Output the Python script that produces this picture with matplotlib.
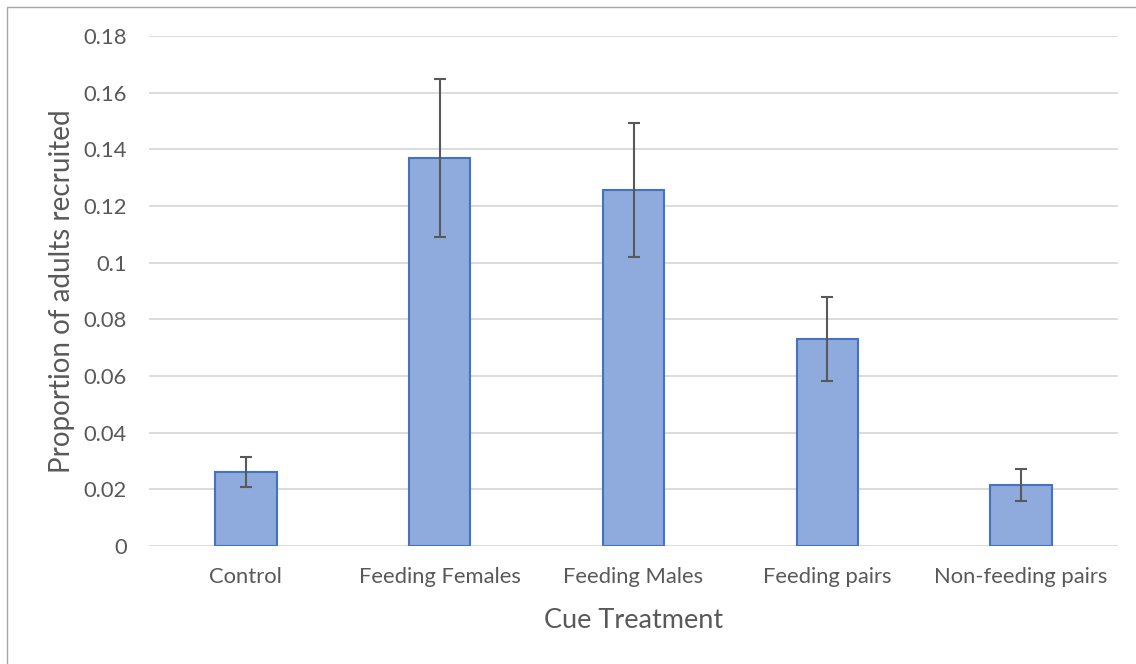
import matplotlib
matplotlib.use("Agg")
import matplotlib.pyplot as plt
from matplotlib.patches import Rectangle

categories = ["Control", "Feeding Females", "Feeding Males", "Feeding pairs", "Non-feeding pairs"]
values = [0.0262, 0.137, 0.1256, 0.0731, 0.0215]
errors = [0.0053, 0.0278, 0.0237, 0.0148, 0.0056]
yticks = [0, 0.02, 0.04, 0.06, 0.08, 0.1, 0.12, 0.14, 0.16, 0.18]
ytick_labels = ["0", "0.02", "0.04", "0.06", "0.08", "0.1", "0.12", "0.14", "0.16", "0.18"]

plt.rcParams['font.family'] = ['Lato', 'DejaVu Sans']
text_color = "#595959"

fig = plt.figure(figsize=(11.36, 6.64), dpi=100)
ax = fig.add_axes([149/1136, 1-546/664, (1118-149)/1136, (546-36)/664])

x = list(range(len(categories)))
ax.bar(x, values, width=0.316, color="#8FAADC", edgecolor="#4472C4", linewidth=1.5, zorder=3)
ax.errorbar(x, values, yerr=errors, fmt="none", ecolor="#595959", elinewidth=1.5,
            capsize=4.5, capthick=1.5, zorder=4)

ax.set_xlim(-0.5, len(categories) - 0.5)
ax.set_ylim(0, 0.18)
ax.set_yticks(yticks)
ax.set_yticklabels(ytick_labels)
ax.set_xticks(x)
ax.set_xticklabels(categories)
ax.grid(axis="y", color="#D9D9D9", linewidth=1.3, zorder=0)
ax.set_axisbelow(True)
for s in ["top", "right", "left", "bottom"]:
    ax.spines[s].set_visible(False)
ax.tick_params(axis="both", length=0, labelsize=15.8, colors=text_color)
ax.tick_params(axis="y", pad=16)
ax.tick_params(axis="x", pad=15)

ax.set_xlabel("Cue Treatment", fontsize=19.5, color=text_color, labelpad=15)
ax.set_ylabel("Proportion of adults recruited", fontsize=20, color=text_color, labelpad=6)

fig.patches.append(Rectangle((7/1136, -0.01), 1.02, 1 - 7/664 + 0.01, transform=fig.transFigure,
                             fill=False, edgecolor="#A6A6A6", linewidth=1.0))

fig.savefig("out.png", dpi=100)
